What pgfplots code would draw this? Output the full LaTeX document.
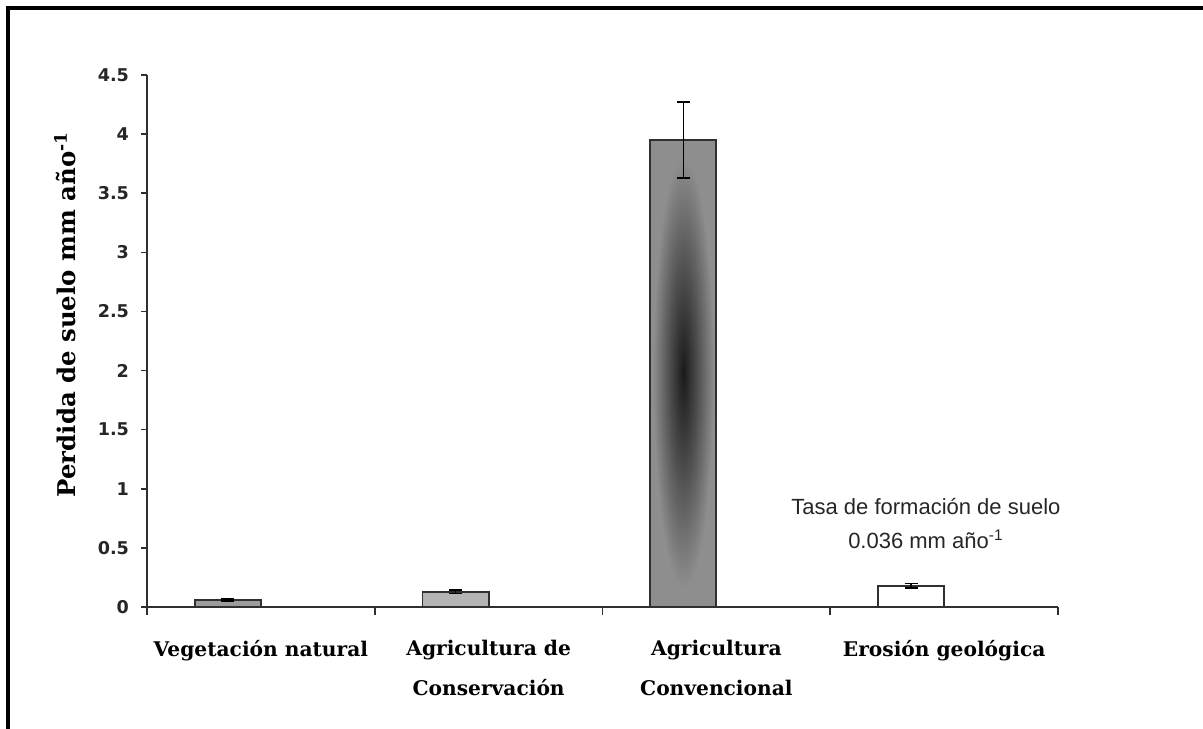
\documentclass[border=0pt]{standalone}
\usepackage{pgfplots}
\pgfplotsset{compat=1.18}
\usepackage{fontspec}
\setmainfont{DejaVu Serif}
\newfontfamily\arial{Liberation Sans}
\newfontfamily\tickfont{DejaVu Sans}
\definecolor{barA}{HTML}{9C9C9C}
\definecolor{barB}{HTML}{B4B4B4}
\definecolor{barC}{HTML}{8E8E8E}
\definecolor{barCmid}{HTML}{505050}
\definecolor{barCdark}{HTML}{1A1A1A}
\definecolor{axcol}{HTML}{303030}
\pgfdeclareradialshading{barshade}{\pgfpoint{0bp}{0bp}}{color(0bp)=(barCdark); color(11bp)=(barCmid); color(23bp)=(barC); color(50bp)=(barC)}
\begin{document}
\begin{tikzpicture}
\useasboundingbox (0,0) rectangle (601.5pt,364pt);
\draw[line width=1.6pt, black] (4pt,-5pt) -- (4pt,360pt) -- (601.5pt,360pt);
\begin{axis}[
  at={(73.5pt,60.5pt)}, anchor=south west,
  scale only axis, width=455.5pt, height=266pt,
  xmin=-0.5, xmax=3.5, ymin=0, ymax=4.5,
  axis lines*=left, axis line style={axcol, line width=0.8pt},
  axis line style={-},
  xtick={0,1,2,3},
  xticklabels={Vegetación natural, Agricultura de\\Conservación, Agricultura\\Convencional, Erosión geológica},
  major x tick style={draw=none},
  minor xtick={-0.5,0.5,1.5,2.5,3.5},
  minor x tick style={axcol, line width=0.8pt},
  minor tick length=4pt,
  ytick={0,0.5,...,4.5},
  yticklabel style={font=\tickfont\bfseries\fontsize{8.8}{10}\selectfont, /pgf/number format/assume math mode=true, xshift=-2.5pt, text=black!85},
  y tick style={axcol, line width=0.8pt},
  major tick length=3pt,
  tick align=outside,
  xticklabel style={font=\bfseries\fontsize{10.1}{20}\selectfont, align=center, yshift=-10pt},
  ylabel={Perdida de suelo mm año\textsuperscript{-1}},
  ylabel style={font=\bfseries\fontsize{12.2}{13}\selectfont, at={(ticklabel cs:0.55,4pt)}},
  clip=false,
  error bars/y dir=both, error bars/y explicit,
  error bars/error bar style={black, line width=0.7pt},
  error bars/error mark options={black, mark size=3.2pt, line width=0.8pt, rotate=90},
]
\addplot[ybar, bar width=0.29, bar shift=0, draw=axcol, line width=0.9pt, fill=barA]
  coordinates {(-0.145,0.06) +- (0,0.01)};
\addplot[ybar, bar width=0.29, bar shift=0, draw=axcol, line width=0.9pt, fill=barB]
  coordinates {(0.855,0.13) +- (0,0.015)};
\addplot[ybar, bar width=0.29, bar shift=0, draw=axcol, line width=0.9pt, shading=barshade]
  coordinates {(1.855,3.95) +- (0,0.32)};
\addplot[ybar, bar width=0.29, bar shift=0, draw=axcol, line width=0.9pt, fill=white]
  coordinates {(2.855,0.18) +- (0,0.02)};
\node[font=\arial\fontsize{11}{17}\selectfont, align=center, text=black!85] at (axis cs:2.92,0.71)
  {Tasa de formación de suelo\\0.036 mm año\textsuperscript{-1}};
\end{axis}
\end{tikzpicture}
\end{document}
